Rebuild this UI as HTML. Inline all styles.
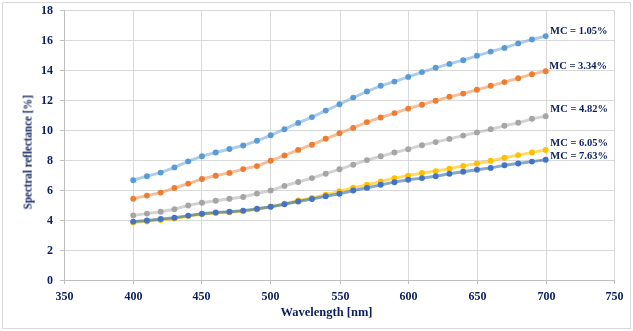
<!DOCTYPE html>
<html><head><meta charset="utf-8"><style>
html,body{margin:0;padding:0;background:#fff;}
svg{display:block;}
text{will-change:transform;}
</style></head><body>
<svg width="633" height="331" viewBox="0 0 633 331">
<rect x="0" y="0" width="633" height="331" fill="#fff"/>
<rect x="2.5" y="2.5" width="628" height="326" fill="none" stroke="#D9D9D9" stroke-width="1"/>
<rect x="133" y="10" width="1" height="270" fill="#D9D9D9"/>
<rect x="201" y="10" width="1" height="270" fill="#D9D9D9"/>
<rect x="270" y="10" width="1" height="270" fill="#D9D9D9"/>
<rect x="340" y="10" width="1" height="270" fill="#D9D9D9"/>
<rect x="408" y="10" width="1" height="270" fill="#D9D9D9"/>
<rect x="477" y="10" width="1" height="270" fill="#D9D9D9"/>
<rect x="546" y="10" width="1" height="270" fill="#D9D9D9"/>
<rect x="614" y="10" width="1" height="270" fill="#D9D9D9"/>
<rect x="65" y="10" width="550" height="1" fill="#D9D9D9"/>
<rect x="65" y="40" width="550" height="1" fill="#D9D9D9"/>
<rect x="65" y="70" width="550" height="1" fill="#D9D9D9"/>
<rect x="65" y="100" width="550" height="1" fill="#D9D9D9"/>
<rect x="65" y="130" width="550" height="1" fill="#D9D9D9"/>
<rect x="65" y="160" width="550" height="1" fill="#D9D9D9"/>
<rect x="65" y="190" width="550" height="1" fill="#D9D9D9"/>
<rect x="65" y="220" width="550" height="1" fill="#D9D9D9"/>
<rect x="65" y="250" width="550" height="1" fill="#D9D9D9"/>
<rect x="64" y="10" width="1" height="274" fill="#BFBFBF"/>
<rect x="60" y="280" width="555" height="1" fill="#BFBFBF"/>
<rect x="60" y="10" width="4" height="1" fill="#BFBFBF"/>
<rect x="60" y="40" width="4" height="1" fill="#BFBFBF"/>
<rect x="60" y="70" width="4" height="1" fill="#BFBFBF"/>
<rect x="60" y="100" width="4" height="1" fill="#BFBFBF"/>
<rect x="60" y="130" width="4" height="1" fill="#BFBFBF"/>
<rect x="60" y="160" width="4" height="1" fill="#BFBFBF"/>
<rect x="60" y="190" width="4" height="1" fill="#BFBFBF"/>
<rect x="60" y="220" width="4" height="1" fill="#BFBFBF"/>
<rect x="60" y="250" width="4" height="1" fill="#BFBFBF"/>
<rect x="133" y="281" width="1" height="3" fill="#BFBFBF"/>
<rect x="201" y="281" width="1" height="3" fill="#BFBFBF"/>
<rect x="270" y="281" width="1" height="3" fill="#BFBFBF"/>
<rect x="340" y="281" width="1" height="3" fill="#BFBFBF"/>
<rect x="408" y="281" width="1" height="3" fill="#BFBFBF"/>
<rect x="477" y="281" width="1" height="3" fill="#BFBFBF"/>
<rect x="546" y="281" width="1" height="3" fill="#BFBFBF"/>
<rect x="614" y="281" width="1" height="3" fill="#BFBFBF"/>
<polyline points="133.20,180.20 146.95,176.20 160.70,172.60 174.45,167.40 188.20,161.40 201.95,156.20 215.70,152.50 229.45,149.00 243.20,145.50 256.95,140.80 270.70,135.30 284.45,129.20 298.20,122.90 311.95,117.10 325.70,110.60 339.45,104.30 353.20,97.60 366.95,91.50 380.70,85.80 394.45,81.60 408.20,76.90 421.95,72.10 435.70,67.80 449.45,63.90 463.20,60.20 476.95,55.80 490.70,51.60 504.45,47.90 518.20,43.40 531.95,39.50 545.70,36.10" fill="none" stroke="rgba(91,155,213,0.5)" stroke-width="2.9" stroke-linejoin="round" stroke-linecap="round"/>
<circle cx="133.20" cy="180.20" r="2.95" fill="#5B9BD5"/>
<circle cx="146.95" cy="176.20" r="2.95" fill="#5B9BD5"/>
<circle cx="160.70" cy="172.60" r="2.95" fill="#5B9BD5"/>
<circle cx="174.45" cy="167.40" r="2.95" fill="#5B9BD5"/>
<circle cx="188.20" cy="161.40" r="2.95" fill="#5B9BD5"/>
<circle cx="201.95" cy="156.20" r="2.95" fill="#5B9BD5"/>
<circle cx="215.70" cy="152.50" r="2.95" fill="#5B9BD5"/>
<circle cx="229.45" cy="149.00" r="2.95" fill="#5B9BD5"/>
<circle cx="243.20" cy="145.50" r="2.95" fill="#5B9BD5"/>
<circle cx="256.95" cy="140.80" r="2.95" fill="#5B9BD5"/>
<circle cx="270.70" cy="135.30" r="2.95" fill="#5B9BD5"/>
<circle cx="284.45" cy="129.20" r="2.95" fill="#5B9BD5"/>
<circle cx="298.20" cy="122.90" r="2.95" fill="#5B9BD5"/>
<circle cx="311.95" cy="117.10" r="2.95" fill="#5B9BD5"/>
<circle cx="325.70" cy="110.60" r="2.95" fill="#5B9BD5"/>
<circle cx="339.45" cy="104.30" r="2.95" fill="#5B9BD5"/>
<circle cx="353.20" cy="97.60" r="2.95" fill="#5B9BD5"/>
<circle cx="366.95" cy="91.50" r="2.95" fill="#5B9BD5"/>
<circle cx="380.70" cy="85.80" r="2.95" fill="#5B9BD5"/>
<circle cx="394.45" cy="81.60" r="2.95" fill="#5B9BD5"/>
<circle cx="408.20" cy="76.90" r="2.95" fill="#5B9BD5"/>
<circle cx="421.95" cy="72.10" r="2.95" fill="#5B9BD5"/>
<circle cx="435.70" cy="67.80" r="2.95" fill="#5B9BD5"/>
<circle cx="449.45" cy="63.90" r="2.95" fill="#5B9BD5"/>
<circle cx="463.20" cy="60.20" r="2.95" fill="#5B9BD5"/>
<circle cx="476.95" cy="55.80" r="2.95" fill="#5B9BD5"/>
<circle cx="490.70" cy="51.60" r="2.95" fill="#5B9BD5"/>
<circle cx="504.45" cy="47.90" r="2.95" fill="#5B9BD5"/>
<circle cx="518.20" cy="43.40" r="2.95" fill="#5B9BD5"/>
<circle cx="531.95" cy="39.50" r="2.95" fill="#5B9BD5"/>
<circle cx="545.70" cy="36.10" r="2.95" fill="#5B9BD5"/>
<polyline points="133.20,198.70 146.95,195.60 160.70,192.60 174.45,188.00 188.20,183.60 201.95,179.00 215.70,175.70 229.45,172.90 243.20,169.10 256.95,166.10 270.70,160.70 284.45,155.50 298.20,149.90 311.95,144.70 325.70,138.80 339.45,133.30 353.20,127.90 366.95,122.10 380.70,117.50 394.45,113.10 408.20,108.60 421.95,104.70 435.70,100.70 449.45,96.80 463.20,93.60 476.95,89.80 490.70,85.80 504.45,82.10 518.20,78.30 531.95,74.20 545.70,71.20" fill="none" stroke="rgba(237,125,49,0.5)" stroke-width="2.9" stroke-linejoin="round" stroke-linecap="round"/>
<circle cx="133.20" cy="198.70" r="2.95" fill="#ED7D31"/>
<circle cx="146.95" cy="195.60" r="2.95" fill="#ED7D31"/>
<circle cx="160.70" cy="192.60" r="2.95" fill="#ED7D31"/>
<circle cx="174.45" cy="188.00" r="2.95" fill="#ED7D31"/>
<circle cx="188.20" cy="183.60" r="2.95" fill="#ED7D31"/>
<circle cx="201.95" cy="179.00" r="2.95" fill="#ED7D31"/>
<circle cx="215.70" cy="175.70" r="2.95" fill="#ED7D31"/>
<circle cx="229.45" cy="172.90" r="2.95" fill="#ED7D31"/>
<circle cx="243.20" cy="169.10" r="2.95" fill="#ED7D31"/>
<circle cx="256.95" cy="166.10" r="2.95" fill="#ED7D31"/>
<circle cx="270.70" cy="160.70" r="2.95" fill="#ED7D31"/>
<circle cx="284.45" cy="155.50" r="2.95" fill="#ED7D31"/>
<circle cx="298.20" cy="149.90" r="2.95" fill="#ED7D31"/>
<circle cx="311.95" cy="144.70" r="2.95" fill="#ED7D31"/>
<circle cx="325.70" cy="138.80" r="2.95" fill="#ED7D31"/>
<circle cx="339.45" cy="133.30" r="2.95" fill="#ED7D31"/>
<circle cx="353.20" cy="127.90" r="2.95" fill="#ED7D31"/>
<circle cx="366.95" cy="122.10" r="2.95" fill="#ED7D31"/>
<circle cx="380.70" cy="117.50" r="2.95" fill="#ED7D31"/>
<circle cx="394.45" cy="113.10" r="2.95" fill="#ED7D31"/>
<circle cx="408.20" cy="108.60" r="2.95" fill="#ED7D31"/>
<circle cx="421.95" cy="104.70" r="2.95" fill="#ED7D31"/>
<circle cx="435.70" cy="100.70" r="2.95" fill="#ED7D31"/>
<circle cx="449.45" cy="96.80" r="2.95" fill="#ED7D31"/>
<circle cx="463.20" cy="93.60" r="2.95" fill="#ED7D31"/>
<circle cx="476.95" cy="89.80" r="2.95" fill="#ED7D31"/>
<circle cx="490.70" cy="85.80" r="2.95" fill="#ED7D31"/>
<circle cx="504.45" cy="82.10" r="2.95" fill="#ED7D31"/>
<circle cx="518.20" cy="78.30" r="2.95" fill="#ED7D31"/>
<circle cx="531.95" cy="74.20" r="2.95" fill="#ED7D31"/>
<circle cx="545.70" cy="71.20" r="2.95" fill="#ED7D31"/>
<polyline points="133.20,215.40 146.95,213.60 160.70,211.70 174.45,209.20 188.20,205.50 201.95,202.70 215.70,200.70 229.45,198.70 243.20,197.00 256.95,193.60 270.70,190.50 284.45,185.90 298.20,182.00 311.95,178.10 325.70,173.70 339.45,169.30 353.20,164.70 366.95,160.10 380.70,156.30 394.45,152.50 408.20,149.20 421.95,145.20 435.70,142.10 449.45,138.90 463.20,135.60 476.95,132.40 490.70,129.30 504.45,125.80 518.20,122.80 531.95,118.80 545.70,116.20" fill="none" stroke="rgba(165,165,165,0.5)" stroke-width="2.9" stroke-linejoin="round" stroke-linecap="round"/>
<circle cx="133.20" cy="215.40" r="2.95" fill="#A5A5A5"/>
<circle cx="146.95" cy="213.60" r="2.95" fill="#A5A5A5"/>
<circle cx="160.70" cy="211.70" r="2.95" fill="#A5A5A5"/>
<circle cx="174.45" cy="209.20" r="2.95" fill="#A5A5A5"/>
<circle cx="188.20" cy="205.50" r="2.95" fill="#A5A5A5"/>
<circle cx="201.95" cy="202.70" r="2.95" fill="#A5A5A5"/>
<circle cx="215.70" cy="200.70" r="2.95" fill="#A5A5A5"/>
<circle cx="229.45" cy="198.70" r="2.95" fill="#A5A5A5"/>
<circle cx="243.20" cy="197.00" r="2.95" fill="#A5A5A5"/>
<circle cx="256.95" cy="193.60" r="2.95" fill="#A5A5A5"/>
<circle cx="270.70" cy="190.50" r="2.95" fill="#A5A5A5"/>
<circle cx="284.45" cy="185.90" r="2.95" fill="#A5A5A5"/>
<circle cx="298.20" cy="182.00" r="2.95" fill="#A5A5A5"/>
<circle cx="311.95" cy="178.10" r="2.95" fill="#A5A5A5"/>
<circle cx="325.70" cy="173.70" r="2.95" fill="#A5A5A5"/>
<circle cx="339.45" cy="169.30" r="2.95" fill="#A5A5A5"/>
<circle cx="353.20" cy="164.70" r="2.95" fill="#A5A5A5"/>
<circle cx="366.95" cy="160.10" r="2.95" fill="#A5A5A5"/>
<circle cx="380.70" cy="156.30" r="2.95" fill="#A5A5A5"/>
<circle cx="394.45" cy="152.50" r="2.95" fill="#A5A5A5"/>
<circle cx="408.20" cy="149.20" r="2.95" fill="#A5A5A5"/>
<circle cx="421.95" cy="145.20" r="2.95" fill="#A5A5A5"/>
<circle cx="435.70" cy="142.10" r="2.95" fill="#A5A5A5"/>
<circle cx="449.45" cy="138.90" r="2.95" fill="#A5A5A5"/>
<circle cx="463.20" cy="135.60" r="2.95" fill="#A5A5A5"/>
<circle cx="476.95" cy="132.40" r="2.95" fill="#A5A5A5"/>
<circle cx="490.70" cy="129.30" r="2.95" fill="#A5A5A5"/>
<circle cx="504.45" cy="125.80" r="2.95" fill="#A5A5A5"/>
<circle cx="518.20" cy="122.80" r="2.95" fill="#A5A5A5"/>
<circle cx="531.95" cy="118.80" r="2.95" fill="#A5A5A5"/>
<circle cx="545.70" cy="116.20" r="2.95" fill="#A5A5A5"/>
<polyline points="133.20,222.60 146.95,221.40 160.70,220.00 174.45,218.60 188.20,216.10 201.95,214.20 215.70,213.10 229.45,212.20 243.20,211.20 256.95,209.40 270.70,206.80 284.45,203.80 298.20,200.50 311.95,197.90 325.70,194.70 339.45,191.30 353.20,187.60 366.95,184.80 380.70,181.50 394.45,178.20 408.20,175.60 421.95,173.00 435.70,171.10 449.45,168.70 463.20,165.90 476.95,163.50 490.70,160.80 504.45,157.70 518.20,155.10 531.95,152.40 545.70,150.00" fill="none" stroke="rgba(255,192,0,0.6)" stroke-width="2.9" stroke-linejoin="round" stroke-linecap="round"/>
<circle cx="133.20" cy="222.60" r="2.95" fill="#FFC000"/>
<circle cx="146.95" cy="221.40" r="2.95" fill="#FFC000"/>
<circle cx="160.70" cy="220.00" r="2.95" fill="#FFC000"/>
<circle cx="174.45" cy="218.60" r="2.95" fill="#FFC000"/>
<circle cx="188.20" cy="216.10" r="2.95" fill="#FFC000"/>
<circle cx="201.95" cy="214.20" r="2.95" fill="#FFC000"/>
<circle cx="215.70" cy="213.10" r="2.95" fill="#FFC000"/>
<circle cx="229.45" cy="212.20" r="2.95" fill="#FFC000"/>
<circle cx="243.20" cy="211.20" r="2.95" fill="#FFC000"/>
<circle cx="256.95" cy="209.40" r="2.95" fill="#FFC000"/>
<circle cx="270.70" cy="206.80" r="2.95" fill="#FFC000"/>
<circle cx="284.45" cy="203.80" r="2.95" fill="#FFC000"/>
<circle cx="298.20" cy="200.50" r="2.95" fill="#FFC000"/>
<circle cx="311.95" cy="197.90" r="2.95" fill="#FFC000"/>
<circle cx="325.70" cy="194.70" r="2.95" fill="#FFC000"/>
<circle cx="339.45" cy="191.30" r="2.95" fill="#FFC000"/>
<circle cx="353.20" cy="187.60" r="2.95" fill="#FFC000"/>
<circle cx="366.95" cy="184.80" r="2.95" fill="#FFC000"/>
<circle cx="380.70" cy="181.50" r="2.95" fill="#FFC000"/>
<circle cx="394.45" cy="178.20" r="2.95" fill="#FFC000"/>
<circle cx="408.20" cy="175.60" r="2.95" fill="#FFC000"/>
<circle cx="421.95" cy="173.00" r="2.95" fill="#FFC000"/>
<circle cx="435.70" cy="171.10" r="2.95" fill="#FFC000"/>
<circle cx="449.45" cy="168.70" r="2.95" fill="#FFC000"/>
<circle cx="463.20" cy="165.90" r="2.95" fill="#FFC000"/>
<circle cx="476.95" cy="163.50" r="2.95" fill="#FFC000"/>
<circle cx="490.70" cy="160.80" r="2.95" fill="#FFC000"/>
<circle cx="504.45" cy="157.70" r="2.95" fill="#FFC000"/>
<circle cx="518.20" cy="155.10" r="2.95" fill="#FFC000"/>
<circle cx="531.95" cy="152.40" r="2.95" fill="#FFC000"/>
<circle cx="545.70" cy="150.00" r="2.95" fill="#FFC000"/>
<polyline points="133.20,221.60 146.95,220.50 160.70,219.00 174.45,217.70 188.20,215.60 201.95,213.70 215.70,212.40 229.45,211.70 243.20,210.60 256.95,208.80 270.70,206.70 284.45,204.20 298.20,201.50 311.95,199.00 325.70,196.30 339.45,193.80 353.20,190.50 366.95,187.90 380.70,184.80 394.45,182.20 408.20,179.70 421.95,178.10 435.70,176.20 449.45,173.80 463.20,171.70 476.95,169.80 490.70,167.90 504.45,165.30 518.20,163.50 531.95,161.60 545.70,159.70" fill="none" stroke="rgba(10,90,160,0.52)" stroke-width="2.9" stroke-linejoin="round" stroke-linecap="round"/>
<circle cx="133.20" cy="221.60" r="2.95" fill="#4472C4"/>
<circle cx="146.95" cy="220.50" r="2.95" fill="#4472C4"/>
<circle cx="160.70" cy="219.00" r="2.95" fill="#4472C4"/>
<circle cx="174.45" cy="217.70" r="2.95" fill="#4472C4"/>
<circle cx="188.20" cy="215.60" r="2.95" fill="#4472C4"/>
<circle cx="201.95" cy="213.70" r="2.95" fill="#4472C4"/>
<circle cx="215.70" cy="212.40" r="2.95" fill="#4472C4"/>
<circle cx="229.45" cy="211.70" r="2.95" fill="#4472C4"/>
<circle cx="243.20" cy="210.60" r="2.95" fill="#4472C4"/>
<circle cx="256.95" cy="208.80" r="2.95" fill="#4472C4"/>
<circle cx="270.70" cy="206.70" r="2.95" fill="#4472C4"/>
<circle cx="284.45" cy="204.20" r="2.95" fill="#4472C4"/>
<circle cx="298.20" cy="201.50" r="2.95" fill="#4472C4"/>
<circle cx="311.95" cy="199.00" r="2.95" fill="#4472C4"/>
<circle cx="325.70" cy="196.30" r="2.95" fill="#4472C4"/>
<circle cx="339.45" cy="193.80" r="2.95" fill="#4472C4"/>
<circle cx="353.20" cy="190.50" r="2.95" fill="#4472C4"/>
<circle cx="366.95" cy="187.90" r="2.95" fill="#4472C4"/>
<circle cx="380.70" cy="184.80" r="2.95" fill="#4472C4"/>
<circle cx="394.45" cy="182.20" r="2.95" fill="#4472C4"/>
<circle cx="408.20" cy="179.70" r="2.95" fill="#4472C4"/>
<circle cx="421.95" cy="178.10" r="2.95" fill="#4472C4"/>
<circle cx="435.70" cy="176.20" r="2.95" fill="#4472C4"/>
<circle cx="449.45" cy="173.80" r="2.95" fill="#4472C4"/>
<circle cx="463.20" cy="171.70" r="2.95" fill="#4472C4"/>
<circle cx="476.95" cy="169.80" r="2.95" fill="#4472C4"/>
<circle cx="490.70" cy="167.90" r="2.95" fill="#4472C4"/>
<circle cx="504.45" cy="165.30" r="2.95" fill="#4472C4"/>
<circle cx="518.20" cy="163.50" r="2.95" fill="#4472C4"/>
<circle cx="531.95" cy="161.60" r="2.95" fill="#4472C4"/>
<circle cx="545.70" cy="159.70" r="2.95" fill="#4472C4"/>
<g font-family="'Liberation Serif', serif" font-weight="bold" fill="#0A1F5C">
<g font-size="11.5"><text x="41" y="13.8" textLength="12" lengthAdjust="spacingAndGlyphs">18</text><text x="41" y="43.8" textLength="12" lengthAdjust="spacingAndGlyphs">16</text><text x="41" y="73.8" textLength="12" lengthAdjust="spacingAndGlyphs">14</text><text x="41" y="103.8" textLength="12" lengthAdjust="spacingAndGlyphs">12</text><text x="41" y="133.8" textLength="12" lengthAdjust="spacingAndGlyphs">10</text><text x="47" y="163.8" textLength="6" lengthAdjust="spacingAndGlyphs">8</text><text x="47" y="193.8" textLength="6" lengthAdjust="spacingAndGlyphs">6</text><text x="47" y="223.8" textLength="6" lengthAdjust="spacingAndGlyphs">4</text><text x="47" y="253.8" textLength="6" lengthAdjust="spacingAndGlyphs">2</text><text x="47" y="283.8" textLength="6" lengthAdjust="spacingAndGlyphs">0</text></g>
<g font-size="11.5"><text x="55.50" y="299.7" textLength="18" lengthAdjust="spacingAndGlyphs">350</text><text x="124.50" y="299.7" textLength="18" lengthAdjust="spacingAndGlyphs">400</text><text x="192.50" y="299.7" textLength="18" lengthAdjust="spacingAndGlyphs">450</text><text x="261.50" y="299.7" textLength="18" lengthAdjust="spacingAndGlyphs">500</text><text x="331.50" y="299.7" textLength="18" lengthAdjust="spacingAndGlyphs">550</text><text x="399.50" y="299.7" textLength="18" lengthAdjust="spacingAndGlyphs">600</text><text x="468.50" y="299.7" textLength="18" lengthAdjust="spacingAndGlyphs">650</text><text x="537.50" y="299.7" textLength="18" lengthAdjust="spacingAndGlyphs">700</text><text x="605.50" y="299.7" textLength="18" lengthAdjust="spacingAndGlyphs">750</text></g>
<g font-size="10.5"><text x="550" y="33.9">MC = 1.05%</text><text x="549.3" y="69.2">MC = 3.34%</text><text x="550.3" y="112.1">MC = 4.82%</text><text x="550.3" y="146.1">MC = 6.05%</text><text x="550.3" y="158.8">MC = 7.63%</text></g>
<text x="280.5" y="315.7" font-size="12.3" textLength="92" lengthAdjust="spacingAndGlyphs">Wavelength [nm]</text>
<text transform="translate(31.6,209.4) rotate(-90)" x="0" y="0" font-size="12" textLength="114.3" lengthAdjust="spacingAndGlyphs">Spectral reflectance [%]</text>
</g>
</svg>
</body></html>
